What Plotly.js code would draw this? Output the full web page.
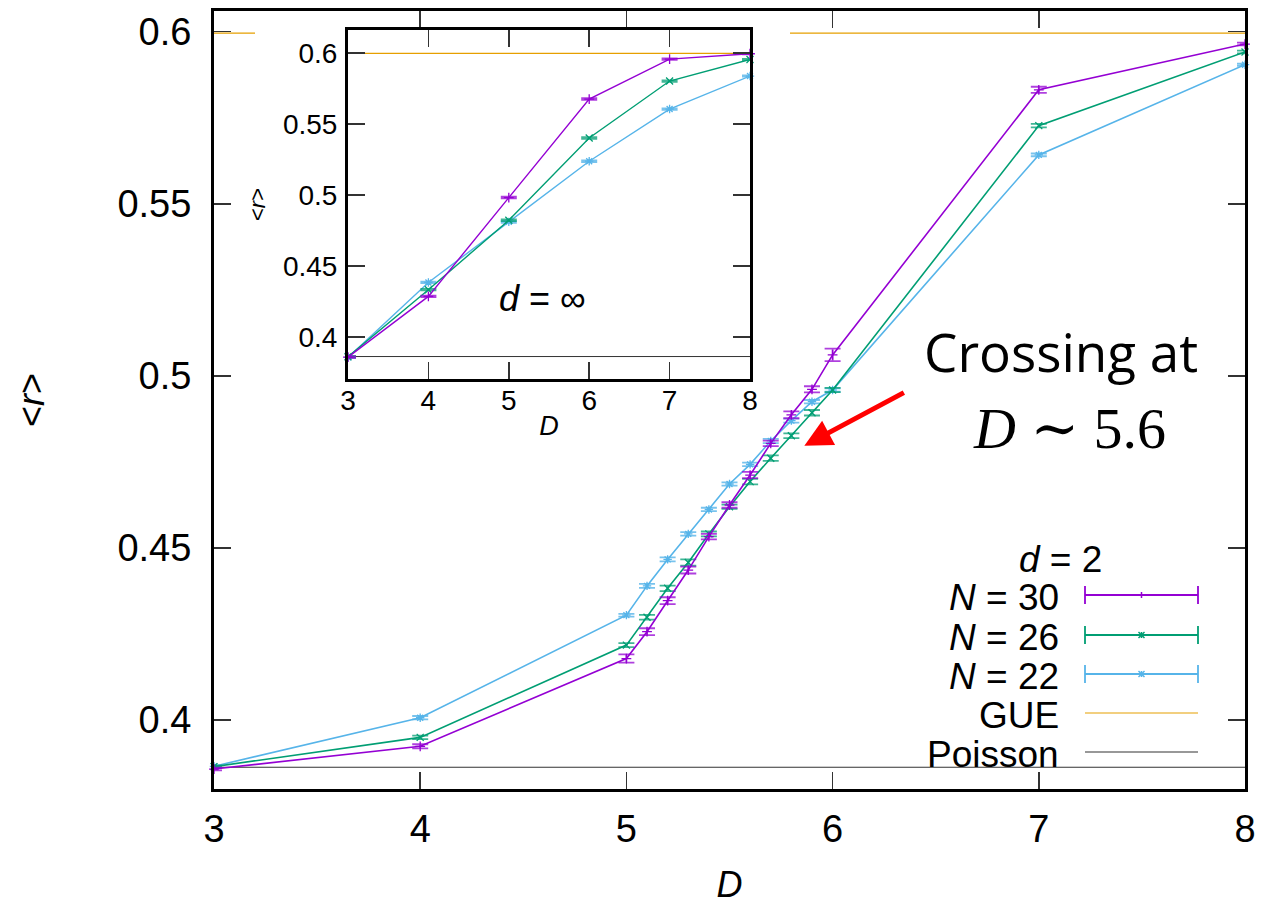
<!DOCTYPE html>
<html>
<head>
<meta charset="utf-8">
<script src="https://cdn.plot.ly/plotly-3.0.1.min.js"></script>
<style>html,body{margin:0;padding:0;background:#fff;}#chart{width:1263px;height:905px;}</style>
</head>
<body>
<div id="chart"></div>
<script>
// ---------------- data ----------------
const D = [3, 4, 5, 5.1, 5.2, 5.3, 5.4, 5.5, 5.6, 5.7, 5.8, 5.9, 6, 7, 8];
const r_N30 = [0.3858, 0.3924, 0.4179, 0.4257, 0.4347, 0.4436, 0.4533, 0.4625, 0.4712, 0.4804, 0.4887, 0.4961, 0.5061, 0.5831, 0.5964];
const r_N26 = [0.3865, 0.3950, 0.4218, 0.4299, 0.4383, 0.4458, 0.4541, 0.4620, 0.4693, 0.4761, 0.4826, 0.4893, 0.4959, 0.5727, 0.5941];
const r_N22 = [0.3866, 0.4007, 0.4305, 0.4390, 0.4467, 0.4541, 0.4612, 0.4686, 0.4743, 0.4811, 0.4870, 0.4925, 0.4959, 0.5642, 0.5904];
const err_N30 = [0.0004, 0.0006, 0.0012, 0.0010, 0.0010, 0.0010, 0.0008, 0.0008, 0.0009, 0.0008, 0.0010, 0.0009, 0.0018, 0.0009, 0.0004];
const err_N26 = [0.0003, 0.0005, 0.0006, 0.0007, 0.0008, 0.0009, 0.0007, 0.0006, 0.0008, 0.0008, 0.0007, 0.0008, 0.0006, 0.0005, 0.0004];
const err_N22 = [0.0003, 0.0005, 0.0004, 0.0006, 0.0006, 0.0005, 0.0005, 0.0005, 0.0005, 0.0006, 0.0006, 0.0005, 0.0005, 0.0004, 0.0003];

const D_inf = [3, 4, 5, 6, 7, 8];
const r_inf_N30 = [0.3859, 0.4286, 0.4981, 0.5674, 0.5955, 0.5993];
const r_inf_N26 = [0.3862, 0.4333, 0.4822, 0.5400, 0.5801, 0.5953];
const r_inf_N22 = [0.3857, 0.4384, 0.4810, 0.5237, 0.5604, 0.5836];
const err_inf = [0.0005, 0.0005, 0.0006, 0.0006, 0.0005, 0.0004];

const GUE = 0.5996;
const POISSON = 0.3863;

const xTicks = [3, 4, 5, 6, 7, 8];
const xTickText = ['3', '4', '5', '6', '7', '8'];
const yTicks = [0.4, 0.45, 0.5, 0.55, 0.6];
const yTickText = ['0.4', '0.45', '0.5', '0.55', '0.6'];

const seriesNames = ['<i>N</i> = 30', '<i>N</i> = 26', '<i>N</i> = 22', 'GUE', 'Poisson'];

// ---------------- styles ----------------
const C30 = '#9400D3', C26 = '#009E73', C22 = '#56B4E9', CGUE = '#E69F00', CPOI = '#333333';
const EB30 = 'rgba(148,0,211,0.75)', EB26 = 'rgba(0,158,115,0.75)', EB22 = 'rgba(86,180,233,0.8)';
const FONT = 'Liberation Sans, Arial, sans-serif';

// plot area in pixels
const W = 1263, H = 905, PL = 214, PR = 1245, PT = 11, PB = 789;
const fx = p => (p - PL) / (PR - PL);
const fy = p => (PB - p) / (PB - PT);

function series(x, y, err, color, ebColor, symbol, xa, ya, lw) {
  return {
    type: 'scatter', mode: 'lines+markers', x: x, y: y, xaxis: xa, yaxis: ya,
    line: {color: color, width: lw},
    marker: {symbol: symbol, size: 7, color: color, line: {color: color, width: 1.3}},
    error_y: {type: 'data', array: err, visible: true, color: ebColor, thickness: 1.8, width: 8},
    showlegend: false, hoverinfo: 'skip', cliponaxis: false
  };
}
function refLine(xs, val, color, w, xa, ya) {
  return {type: 'scatter', mode: 'lines', x: [xs[0], xs[xs.length - 1]], y: [val, val],
    xaxis: xa, yaxis: ya, line: {color: color, width: w}, showlegend: false, hoverinfo: 'skip'};
}

const traces = [
  // main plot
  refLine(D, GUE, CGUE, 1.3, 'x', 'y'),
  refLine(D, POISSON, CPOI, 1.1, 'x', 'y'),
  series(D, r_N22, err_N22, C22, EB22, 'asterisk-open', 'x', 'y', 1.6),
  series(D, r_N26, err_N26, C26, EB26, 'x-thin-open', 'x', 'y', 1.6),
  series(D, r_N30, err_N30, C30, EB30, 'cross-thin-open', 'x', 'y', 1.6),
  // white cover behind the inset (empty subplot)
  {type: 'scatter', x: [], y: [], xaxis: 'x2', yaxis: 'y2', showlegend: false, hoverinfo: 'skip'},
  // inset
  refLine(D_inf, GUE, CGUE, 1.2, 'x3', 'y3'),
  refLine(D_inf, POISSON, CPOI, 1.0, 'x3', 'y3'),
  series(D_inf, r_inf_N22, err_inf, C22, EB22, 'asterisk-open', 'x3', 'y3', 1.4),
  series(D_inf, r_inf_N26, err_inf, C26, EB26, 'x-thin-open', 'x3', 'y3', 1.4),
  series(D_inf, r_inf_N30, err_inf, C30, EB30, 'cross-thin-open', 'x3', 'y3', 1.4)
];

const baseAxis = {
  showgrid: false, zeroline: false, showline: true, linecolor: '#000', linewidth: 3,
  mirror: 'ticks', ticks: 'inside', tickcolor: '#333', tickwidth: 1.5, ticklen: 17,
  tickfont: {family: FONT, size: 38, color: '#000'}, fixedrange: true
};

// ---------------- legend (drawn manually: text left, sample right) ----------------
const legY = [595, 635, 674, 713, 752];
const legColors = [C30, C26, C22, CGUE, CPOI];
const legX0 = 1085, legX1 = 1198, legTextX = 1061;
const shapes = [];
const annotations = [];
legY.forEach((py, i) => {
  shapes.push({type: 'line', xref: 'paper', yref: 'paper', x0: fx(legX0), x1: fx(legX1), y0: fy(py), y1: fy(py),
    line: {color: legColors[i], width: i < 3 ? 1.8 : 1.2}});
  if (i < 3) {
    [legX0, legX1].forEach(ex => shapes.push({type: 'line', xref: 'paper', yref: 'paper', x0: fx(ex), x1: fx(ex),
      y0: fy(py - 9), y1: fy(py + 9), line: {color: legColors[i], width: 1.8}}));
    const cx = (legX0 + legX1) / 2;
    shapes.push({type: 'line', xref: 'paper', yref: 'paper', x0: fx(cx), x1: fx(cx), y0: fy(py - 3), y1: fy(py + 3),
      line: {color: legColors[i], width: 1.5}});
    if (i > 0) {
      shapes.push({type: 'line', xref: 'paper', yref: 'paper', x0: fx(cx - 3), x1: fx(cx + 3), y0: fy(py - 3), y1: fy(py + 3),
        line: {color: legColors[i], width: 1.5}});
      shapes.push({type: 'line', xref: 'paper', yref: 'paper', x0: fx(cx - 3), x1: fx(cx + 3), y0: fy(py + 3), y1: fy(py - 3),
        line: {color: legColors[i], width: 1.5}});
    }
  }
  annotations.push({xref: 'paper', yref: 'paper', x: fx(legTextX), y: fy(py + 2), xanchor: 'right', yanchor: 'middle',
    text: seriesNames[i], showarrow: false, font: {family: FONT, size: 37, color: '#000'}});
});
annotations.push({xref: 'paper', yref: 'paper', x: fx(1060), y: fy(559), xanchor: 'center', yanchor: 'middle',
  text: '<i>d</i> = 2', showarrow: false, font: {family: FONT, size: 37, color: '#000'}});

// inset label
annotations.push({xref: 'paper', yref: 'paper', x: fx(542), y: fy(298), xanchor: 'center', yanchor: 'middle',
  text: '<i>d</i> = ∞', showarrow: false, font: {family: FONT, size: 36, color: '#000'}});

// crossing note
annotations.push({xref: 'paper', yref: 'paper', x: fx(1061), y: fy(351), xanchor: 'center', yanchor: 'middle',
  text: 'Crossing at', showarrow: false, font: {family: 'Open Sans, sans-serif', size: 53, color: '#000'}});
annotations.push({xref: 'paper', yref: 'paper', x: fx(1069), y: fy(428), xanchor: 'center', yanchor: 'middle',
  text: '<i>D</i> ∼ 5.6', showarrow: false, font: {family: 'Liberation Serif, DejaVu Serif, serif', size: 58, color: '#000'}});
// red arrow
annotations.push({xref: 'x', yref: 'y', x: 5.863, y: 0.4797, ax: 101, ay: -54, text: '', showarrow: true,
  arrowhead: 2, arrowsize: 1.1, arrowwidth: 5, arrowcolor: '#FF0000', standoff: 0});

const layout = {
  width: W, height: H,
  margin: {l: PL, r: W - PR, t: PT, b: H - PB, pad: 0},
  paper_bgcolor: '#fff', plot_bgcolor: '#fff',
  showlegend: false, hovermode: false,
  xaxis: Object.assign({}, baseAxis, {domain: [0, 1], anchor: 'y', range: [3, 8], tickvals: xTicks, ticktext: xTickText,
    ticklabelstandoff: 4,
    title: {text: '<i>D</i>', font: {family: FONT, size: 36, color: '#000'}, standoff: 32}}),
  yaxis: Object.assign({}, baseAxis, {domain: [0, 1], anchor: 'x', range: [0.38, 0.606], tickvals: yTicks, ticktext: yTickText,
    ticklabelstandoff: 12,
    title: {text: '&lt;<i>r</i>&gt;', font: {family: FONT, size: 36, color: '#000'}, standoff: 62}}),
  xaxis2: {domain: [fx(255), fx(790)], anchor: 'y2', range: [0, 1], showgrid: false, zeroline: false, showline: false,
    showticklabels: false, ticks: '', fixedrange: true},
  yaxis2: {domain: [fy(400), fy(29)], anchor: 'x2', range: [0, 1], showgrid: false, zeroline: false, showline: false,
    showticklabels: false, ticks: '', fixedrange: true},
  xaxis3: Object.assign({}, baseAxis, {domain: [fx(348), fx(750)], anchor: 'y3', range: [3, 8], tickvals: xTicks, ticktext: xTickText,
    tickfont: {family: FONT, size: 28, color: '#000'}, ticklabelstandoff: -6,
    title: {text: '<i>D</i>', font: {family: FONT, size: 27, color: '#000'}, standoff: 2}}),
  yaxis3: Object.assign({}, baseAxis, {domain: [fy(379), fy(30)], anchor: 'x3', range: [0.3705, 0.616], tickvals: yTicks, ticktext: yTickText,
    tickfont: {family: FONT, size: 28, color: '#000'}, ticklabelstandoff: 2,
    title: {text: '&lt;<i>r</i>&gt;', font: {family: FONT, size: 22, color: '#000'}, standoff: 12}}),
  shapes: shapes,
  annotations: annotations
};

Plotly.newPlot('chart', traces, layout, {displayModeBar: false, staticPlot: true});
</script>
</body>
</html>
